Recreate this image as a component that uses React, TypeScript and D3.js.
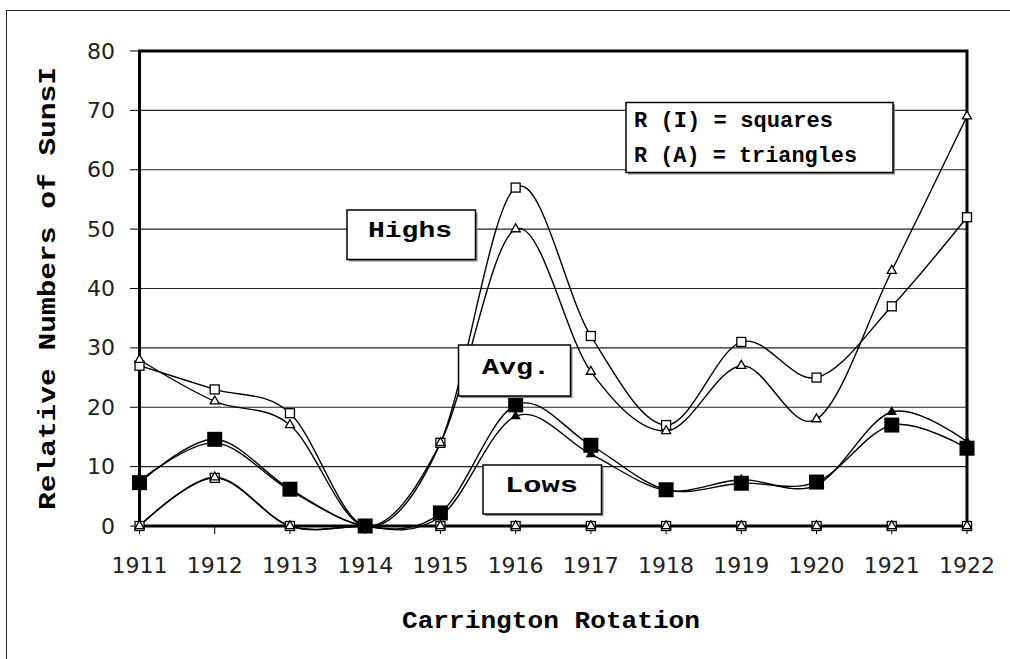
import React from "react";
import * as d3 from "d3";

const years = [1911, 1912, 1913, 1914, 1915, 1916, 1917, 1918, 1919, 1920, 1921, 1922];
const highsRI = [27, 23, 19, 0, 14, 57, 32, 17, 31, 25, 37, 52];
const highsRA = [28, 21, 17, 0, 14, 50, 26, 16, 27, 18, 43, 69];
const avgRI = [7.3, 14.6, 6.2, 0, 2.2, 20.4, 13.6, 6.1, 7.2, 7.4, 17, 13.1];
const avgRA = [7.6, 14.0, 6.0, 0, 1.6, 18.5, 12.1, 6.0, 7.8, 6.9, 19.2, 14.2];
const lowsRI = [0, 8.1, 0, 0, 0, 0, 0, 0, 0, 0, 0, 0];
const lowsRA = [0, 8.2, 0, 0, 0, 0, 0, 0, 0, 0, 0, 0];
const yTicks = [0, 10, 20, 30, 40, 50, 60, 70, 80];

const W = 1010;
const H = 659;
const left = 139.5;
const right = 967;
const top = 51;
const bottom = 526;

const boldFont = "'Liberation Mono', 'DejaVu Sans Mono', monospace";
const tickFont = "'DejaVu Sans', sans-serif";

type Marker = "sq" | "tri" | "fsq" | "ftri";

export default function App() {
  const x = d3.scaleLinear().domain([1911, 1922]).range([left, right]);
  const y = d3.scaleLinear().domain([0, 80]).range([bottom, top]);
  const line = d3
    .line<number>()
    .x((_, i) => x(years[i]))
    .y((d) => y(d))
    .curve(d3.curveCardinal.tension(0));

  const series: { vals: number[]; marker: Marker }[] = [
    { vals: lowsRI, marker: "sq" },
    { vals: lowsRA, marker: "tri" },
    { vals: highsRI, marker: "sq" },
    { vals: highsRA, marker: "tri" },
    { vals: avgRA, marker: "ftri" },
    { vals: avgRI, marker: "fsq" },
  ];

  const triOpen = d3.symbol(d3.symbolTriangle, 36)()!;
  const triFill = d3.symbol(d3.symbolTriangle, 46)()!;

  const drawMarker = (m: Marker, cx: number, cy: number, key: string) => {
    if (m === "sq")
      return <rect key={key} x={cx - 4.5} y={cy - 4.5} width={9} height={9} fill="#fff" stroke="#000" strokeWidth={1.3} />;
    if (m === "fsq")
      return <rect key={key} x={cx - 7.5} y={cy - 7.5} width={15} height={15} fill="#000" />;
    if (m === "tri")
      return <path key={key} d={triOpen} transform={`translate(${cx},${cy})`} fill="#fff" stroke="#000" strokeWidth={1.3} />;
    return <path key={key} d={triFill} transform={`translate(${cx},${cy})`} fill="#000" />;
  };

  const box = (x0: number, y0: number, x1: number, y1: number, key: string) => (
    <g key={key}>
      <rect x={x0 + 2} y={y0 + 2} width={x1 - x0} height={y1 - y0} fill="#888" />
      <rect x={x0} y={y0} width={x1 - x0} height={y1 - y0} fill="#fff" stroke="#000" strokeWidth={1.5} />
    </g>
  );

  const boldText = (t: string, tx: number, ty: number, len: number, key: string) => (
    <text key={key} x={tx} y={ty} fontFamily={boldFont} fontWeight="bold" fontSize={22} textLength={len} lengthAdjust="spacingAndGlyphs" fill="#000">
      {t}
    </text>
  );

  return (
    <svg width={W} height={H} style={{ position: "absolute", left: 0, top: 0, background: "#fff" }}>
      <rect x={0} y={0} width={W} height={H} fill="#fff" />
      <rect x={6.5} y={10.5} width={1200} height={800} fill="none" stroke="#222" strokeWidth={1} />

      {/* gridlines */}
      {yTicks.map((t) => (
        <line key={"g" + t} x1={left} x2={right} y1={y(t)} y2={y(t)} stroke="#222" strokeWidth={1.1} />
      ))}
      {/* y ticks */}
      {yTicks.map((t) => (
        <line key={"yt" + t} x1={130} x2={left} y1={y(t)} y2={y(t)} stroke="#000" strokeWidth={1} />
      ))}
      {yTicks.map((t) => (
        <text key={"yl" + t} x={115} y={y(t) + 7.5} textAnchor="end" fontFamily={tickFont} fontSize={22} fill="#222">
          {t}
        </text>
      ))}
      {/* x ticks */}
      {years.map((yr) => (
        <line key={"xt" + yr} x1={x(yr)} x2={x(yr)} y1={bottom} y2={bottom + 8} stroke="#000" strokeWidth={1} />
      ))}
      {years.map((yr) => (
        <text key={"xl" + yr} x={x(yr)} y={573} textAnchor="middle" fontFamily={tickFont} fontSize={22} fill="#222">
          {yr}
        </text>
      ))}

      {/* series lines */}
      {series.map((s, i) => (
        <path key={"l" + i} d={line(s.vals)!} fill="none" stroke="#000" strokeWidth={1.4} />
      ))}

      {/* frame */}
      <rect x={left} y={top} width={right - left} height={bottom - top} fill="none" stroke="#000" strokeWidth={3} />

      {/* markers */}
      {series.map((s, i) => s.vals.map((v, j) => drawMarker(s.marker, x(years[j]), y(v), `m${i}-${j}`)))}

      {/* label boxes */}
      {box(626, 102.5, 893, 172.5, "legend")}
      {boldText("R (I) = squares", 634, 126.5, 199, "lg1")}
      {boldText("R (A) = triangles", 634, 161.5, 223, "lg2")}

      {box(347, 210, 475.5, 259.5, "hb")}
      {boldText("Highs", 368, 237, 84, "ht")}

      {box(458.5, 345, 570.5, 396, "ab")}
      {boldText("Avg.", 482, 374, 68, "at")}

      {box(483, 465, 601.5, 514, "lb")}
      {boldText("Lows", 505, 492, 73, "lt")}

      {/* axis titles */}
      <text x={402} y={628} fontFamily={boldFont} fontWeight="bold" fontSize={23} textLength={298} lengthAdjust="spacingAndGlyphs">
        Carrington Rotation
      </text>
      <text
        transform={`translate(55, ${(top + bottom) / 2}) rotate(-90)`}
        x={0}
        y={0}
        textAnchor="middle"
        fontFamily={boldFont}
        fontWeight="bold"
        fontSize={23}
        textLength={443}
        lengthAdjust="spacingAndGlyphs"
      >
        Relative Numbers of SunsI
      </text>
    </svg>
  );
}
